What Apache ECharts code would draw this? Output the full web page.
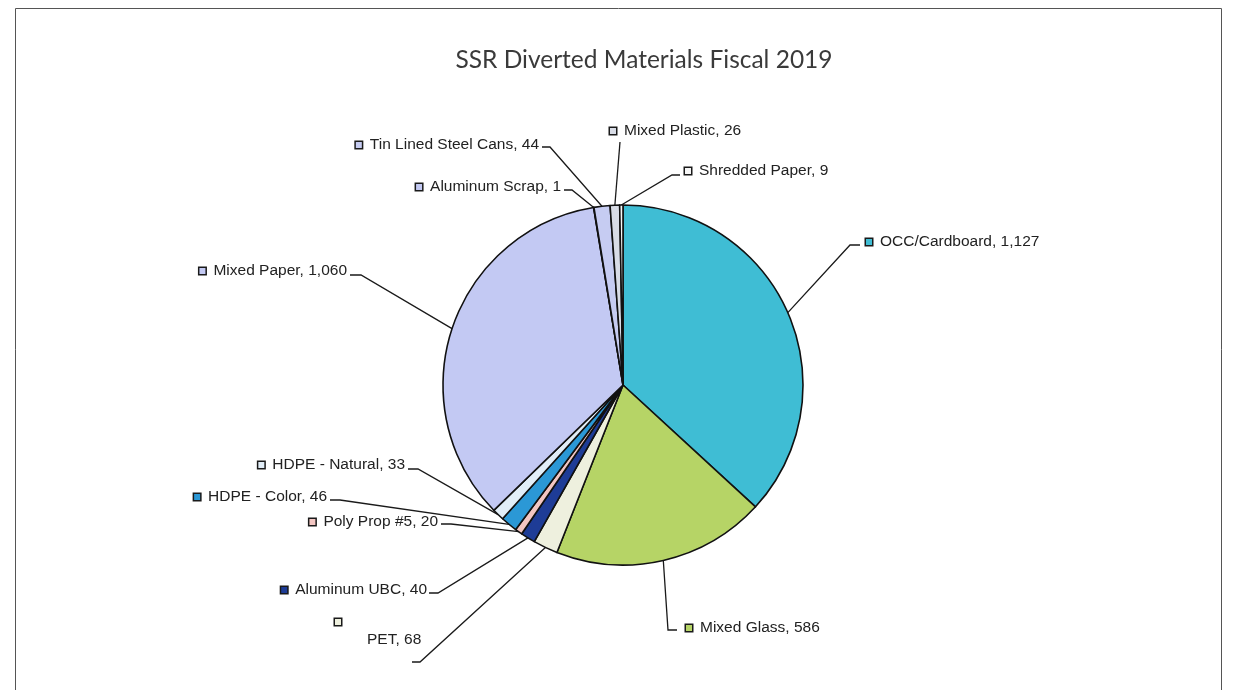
<!DOCTYPE html>
<html>
<head>
<meta charset="utf-8">
<title>SSR Diverted Materials Fiscal 2019</title>
<script src="https://cdn.jsdelivr.net/npm/echarts@6/dist/echarts.min.js"></script>
<style>
  html, body { margin: 0; padding: 0; background: #fff; }
  #chart { width: 1235px; height: 690px; }
</style>
</head>
<body>
<div id="chart"></div>
<script>
// slices, clockwise from 12 o'clock
const materials = ['OCC/Cardboard', 'Mixed Glass', 'PET', 'Aluminum UBC', 'Poly Prop #5',
  'HDPE - Color', 'HDPE - Natural', 'Mixed Paper', 'Aluminum Scrap',
  'Tin Lined Steel Cans', 'Mixed Plastic', 'Shredded Paper'];
const tons = [1127, 586, 68, 40, 20, 46, 33, 1060, 1, 44, 26, 9];

const colors = ['#3fbdd4', '#b6d466', '#eef0de', '#1e3c96', '#f3c6c2', '#2b98d6',
  '#e2eef8', '#c3c9f3', '#c3c9f3', '#c6ccf2', '#d8dce6', '#f6f6f6'];

// label placement: [x, y, align, lineEndX, lineEndY], plus horizontal elbow offset
const labelPos = [
  [866, 242, 'left', 860, 245],
  [686, 628, 'left', 677, 630],
  [335, 631, 'left', 412, 662],
  [427, 590, 'right', 429, 593],
  [438, 522, 'right', 441, 524],
  [327, 497, 'right', 330, 500],
  [405, 465, 'right', 408, 469],
  [347, 271, 'right', 350, 275],
  [561, 187, 'right', 564, 190],
  [539, 145, 'right', 542, 147],
  [610, 131, 'left', 620, 142],
  [685, 171, 'left', 680, 175]
];
const elbowDx = [-10, -9, 8, 9, 10, 10, 10, 11, 8, 8, 0, -8];

const rich = {
  t: { fontSize: 15.5, fontFamily: 'Liberation Sans, Arial, sans-serif', color: '#222', lineHeight: 18 },
  g: { width: 8 },
  gp: { width: 32 }
};
colors.forEach(function (c, i) {
  rich['i' + i] = { width: 6, height: 6, backgroundColor: c, borderColor: '#1a1a1a', borderWidth: 1.5 };
});

const chart = echarts.init(document.getElementById('chart'));
chart.setOption({
  animation: false,
  graphic: [
    {
      type: 'rect',
      shape: { x: 15.5, y: 8.5, width: 1206, height: 700 },
      style: { fill: 'none', stroke: '#555', lineWidth: 1 }
    },
    {
      type: 'text',
      x: 644, y: 60,
      style: {
        text: 'SSR Diverted Materials Fiscal 2019',
        fill: '#3a3a3a',
        font: '24.5px Lato, "Open Sans", sans-serif',
        textAlign: 'center',
        textVerticalAlign: 'middle'
      }
    }
  ],
  series: [{
    type: 'pie',
    center: [623, 385],
    radius: 180,
    startAngle: 90,
    clockwise: true,
    avoidLabelOverlap: false,
    data: materials.map(function (m, i) {
      return { name: m, value: tons[i], itemStyle: { color: colors[i] } };
    }),
    itemStyle: { borderColor: '#111', borderWidth: 1.6 },
    emphasis: { disabled: true },
    label: {
      show: true,
      position: 'outside',
      rich: rich,
      formatter: function (p) {
        const txt = p.name + ', ' + p.value.toLocaleString('en-US');
        if (p.dataIndex === 2) {
          // PET label wraps: icon on its own line
          return '{i2|}{t| }\n{gp|}{t|' + txt + '}';
        }
        return '{i' + p.dataIndex + '|}{g|}{t|' + txt + '}';
      }
    },
    labelLine: {
      show: true,
      lineStyle: { color: '#1a1a1a', width: 1.3 }
    },
    labelLayout: function (params) {
      const lp = labelPos[params.dataIndex];
      const start = params.labelLinePoints ? params.labelLinePoints[0] : [lp[3], lp[4]];
      const end = [lp[3], lp[4]];
      const elbow = [lp[3] + elbowDx[params.dataIndex], lp[4]];
      return {
        x: lp[0],
        y: lp[1],
        align: lp[2],
        verticalAlign: 'middle',
        labelLinePoints: [start, elbow, end]
      };
    }
  }]
});
</script>
</body>
</html>
